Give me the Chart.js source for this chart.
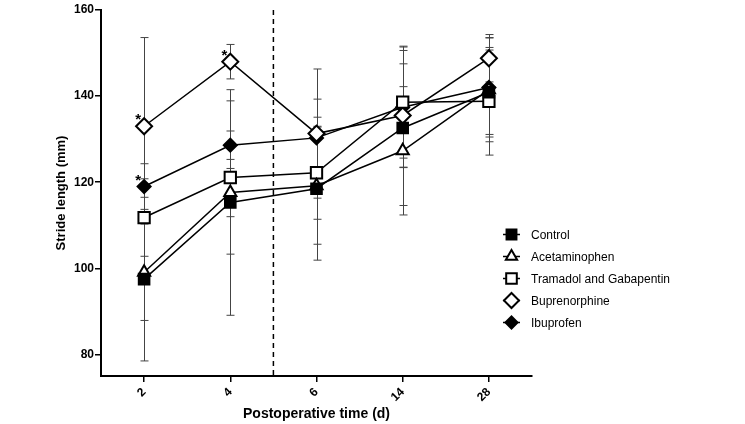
<!DOCTYPE html>
<html>
<head>
<meta charset="utf-8">
<script src="https://cdn.jsdelivr.net/npm/chart.js@4/dist/chart.umd.min.js"></script>
<style>
  html, body { margin: 0; padding: 0; background: #fff; }
  #wrap { width: 745px; height: 424px; position: relative; }
</style>
</head>
<body>
<div id="wrap"><canvas id="chart" width="745" height="424"></canvas></div>
<script>
// postoperative days (categories)
const days = ['2', '4', '6', '14', '28'];
const yTicks = [80, 100, 120, 140, 160];

// mean stride length (mm) per group
const control = [97.5, 115.3, 118.5, 132.6, 140.9];
const acetaminophen = [99.1, 117.6, 119.2, 127.3, 141.5];
const tramadolGabapentin = [111.8, 121.1, 122.2, 138.6, 138.8];
const buprenorphine = [133.0, 148.0, 131.3, 135.5, 148.8];
const ibuprofen = [119.0, 128.6, 130.3, 137.4, 142.0];

// error bar half-length (SD)
const controlErr = [19.0, 26.2, 16.6, 18.0, 9.8];
const acetaminophenErr = [11.2, 5.6, 13.6, 14.9, 12.1];
const tramadolGabapentinErr = [9.0, 17.8, 10.8, 13.0, 12.5];
const buprenorphineErr = [20.6, 4.0, 15.0, 12.0, 5.5];
const ibuprofenErr = [5.3, 3.3, 9.0, 14.0, 11.5];

// significance stars: [dataset index, day index]
const stars = [[3, 0], [4, 0], [3, 1]];

const FONT = "'Liberation Sans', Arial, Helvetica, sans-serif";

const series = [
  { label: 'Control', data: control, err: controlErr, style: 'rect', radius: 7.5, fill: '#000' },
  { label: 'Acetaminophen', data: acetaminophen, err: acetaminophenErr, style: 'triangle', radius: 7, fill: '#fff' },
  { label: 'Tramadol and Gabapentin', data: tramadolGabapentin, err: tramadolGabapentinErr, style: 'rect', radius: 8, fill: '#fff' },
  { label: 'Buprenorphine', data: buprenorphine, err: buprenorphineErr, style: 'rectRot', radius: 8, fill: '#fff' },
  { label: 'Ibuprofen', data: ibuprofen, err: ibuprofenErr, style: 'rectRot', radius: 6.5, fill: '#000' },
];

const extras = {
  id: 'extras',
  beforeDatasetsDraw(chart) {
    const { ctx, chartArea, scales: { x, y } } = chart;
    ctx.save();
    // dashed separator between day 4 and day 6
    const xd = (x.getPixelForValue(1) + x.getPixelForValue(2)) / 2;
    ctx.strokeStyle = '#000';
    ctx.lineWidth = 1.5;
    ctx.setLineDash([5, 4]);
    ctx.beginPath();
    ctx.moveTo(xd, chartArea.top);
    ctx.lineTo(xd, chartArea.bottom);
    ctx.stroke();
    ctx.setLineDash([]);
    // error bars
    ctx.strokeStyle = '#444';
    ctx.lineWidth = 1;
    series.forEach((s) => {
      s.data.forEach((v, i) => {
        const px = Math.round(x.getPixelForValue(i)) + 0.5;
        const top = y.getPixelForValue(v + s.err[i]);
        const bot = y.getPixelForValue(v - s.err[i]);
        ctx.beginPath();
        ctx.moveTo(px, top); ctx.lineTo(px, bot);
        ctx.moveTo(px - 4, top); ctx.lineTo(px + 4, top);
        ctx.moveTo(px - 4, bot); ctx.lineTo(px + 4, bot);
        ctx.stroke();
      });
    });
    ctx.restore();
  },
  afterDraw(chart) {
    const { ctx, scales: { x, y } } = chart;
    ctx.save();
    ctx.fillStyle = '#000';
    ctx.font = 'bold 15px ' + FONT;
    ctx.textAlign = 'center';
    ctx.textBaseline = 'middle';
    stars.forEach(([d, i]) => {
      const v = series[d].data[i];
      ctx.fillText('*', x.getPixelForValue(i) - 6, y.getPixelForValue(v) - 6);
    });
    // legend
    ctx.font = '12px ' + FONT;
    ctx.textAlign = 'left';
    series.forEach((s, k) => {
      const ly = 234.5 + k * 22;
      ctx.strokeStyle = '#000';
      ctx.lineWidth = 1.5;
      ctx.beginPath();
      ctx.moveTo(503, ly); ctx.lineTo(520, ly);
      ctx.stroke();
      ctx.fillStyle = s.fill;
      ctx.lineWidth = 2;
      Chart.helpers.drawPoint(ctx, { pointStyle: s.style, radius: s.radius - 0.5, borderWidth: 2, rotation: 0 }, 511.5, ly);
      ctx.fillStyle = '#000';
      ctx.fillText(s.label, 531, ly + 1);
    });
    ctx.restore();
  },
};

new Chart(document.getElementById('chart'), {
  type: 'line',
  data: {
    labels: days,
    datasets: series.map((s) => ({
      label: s.label,
      data: s.data,
      borderColor: '#000',
      borderWidth: 1.5,
      tension: 0,
      pointStyle: s.style,
      pointRadius: s.radius,
      pointHoverRadius: s.radius,
      pointBorderWidth: 2,
      pointBorderColor: '#000',
      pointBackgroundColor: s.fill,
    })),
  },
  options: {
    responsive: false,
    animation: false,
    events: [],
    layout: { padding: { left: 0, right: 213, top: 8, bottom: 0 } },
    plugins: { legend: { display: false }, tooltip: { enabled: false } },
    scales: {
      x: {
        type: 'category',
        offset: true,
        grid: { offset: false, drawOnChartArea: false, color: '#000', lineWidth: 1.5, tickLength: 6 },
        border: { color: '#000', width: 2 },
        ticks: { color: '#000', font: { family: FONT, size: 12, weight: 'bold' }, minRotation: 45, maxRotation: 45, padding: 3 },
        title: { display: true, text: 'Postoperative time (d)', color: '#000', font: { family: FONT, size: 14, weight: 'bold' }, padding: { top: 0, bottom: 1 } },
        afterFit(scale) { scale.height = 48; },
      },
      y: {
        min: 75,
        max: 160,
        grid: { drawOnChartArea: false, color: '#000', lineWidth: 1.5, tickLength: 6 },
        border: { color: '#000', width: 2 },
        afterBuildTicks(scale) { scale.ticks = yTicks.map((v) => ({ value: v })); },
        ticks: { color: '#000', font: { family: FONT, size: 12, weight: 'bold' }, padding: 1 },
        title: { display: true, text: 'Stride length (mm)', color: '#000', font: { family: FONT, size: 13, weight: 'bold' }, padding: { top: 54, bottom: 0 } },
        afterFit(scale) { scale.width = 101; },
      },
    },
  },
  plugins: [extras],
});
</script>
</body>
</html>
